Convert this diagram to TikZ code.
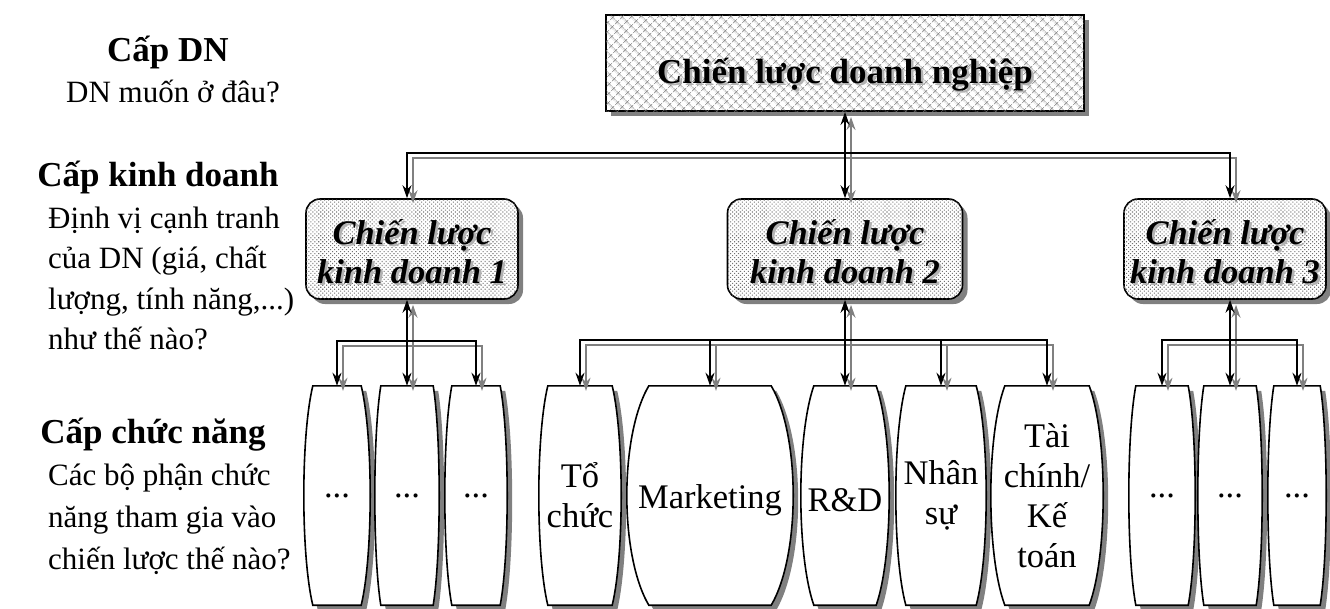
\documentclass[tikz,border=0pt]{standalone}
\usepackage{fontspec}
\setmainfont{Liberation Serif}
\usetikzlibrary{arrows.meta,shadows,patterns.meta,calc}
\pgfdeclarelayer{back}
\pgfsetlayers{back,main}

% functional unit: flat top and bottom, sides bulging outwards
% #1 = node, #2 = bulge of the sides
\newcommand\barrel[2]{%
  \draw[barrelbox] ([xshift=#2pt]#1.north west) -- ([xshift=-#2pt]#1.north east)
    .. controls ($(#1.north east)+({#2/3},50)$) and ($(#1.south east)+({#2/3},-50)$)
    .. ([xshift=-#2pt]#1.south east) -- ([xshift=#2pt]#1.south west)
    .. controls ($(#1.south west)+({-#2/3},-50)$) and ($(#1.north west)+({-#2/3},50)$)
    .. cycle;}

% lowers a label without changing the box it occupies
\newcommand\lowered[1]{\raisebox{-5pt}[\height][\depth]{#1}}

% all connectors, drawn once as grey shadow and once in black
\newcommand\links[1]{%
  \draw[twoway,#1] (top.south) -- (b2.north);
  \draw[link,#1] (h0) -| (b1.north -| d2.north);
  \draw[link,#1] (h0) -| (b3.north -| e2.north);
  \draw[twoway,#1] (b1.south -| d2.north) -- (d2.north);
  \draw[link,#1] (h1) -| (d1.north);
  \draw[link,#1] (h1) -| (d3.north);
  \draw[twoway,#1] (b2.south) -- (rd.north);
  \draw[link,#1] (h2) -| (tc.north);
  \draw[link,#1] (h2) -| (mk.north);
  \draw[link,#1] (h2) -| (ns.north);
  \draw[link,#1] (h2) -| (tk.north);
  \draw[twoway,#1] (b3.south -| e2.north) -- (e2.north);
  \draw[link,#1] (h3) -| (e1.north);
  \draw[link,#1] (h3) -| (e3.north);
}

\begin{document}
\begin{tikzpicture}[x=1pt,y=-1pt,
  >={Stealth[length=13pt,width=9pt]},
  link/.style={line width=1.6pt,->},
  twoway/.style={line width=1.6pt,<->},
  boxshadow/.style={drop shadow={shadow xshift=5pt,shadow yshift=-5pt,fill=gray,opacity=1}},
  hatchbox/.style={draw,line width=2pt,fill=white,boxshadow,
    postaction={pattern={Hatch[angle=45,distance=6.5pt,line width=0.7pt]},pattern color=gray!90!black}},
  dotbox/.style={draw,line width=1.6pt,rounded corners=14pt,fill=white,boxshadow,
    postaction={pattern={Dots[angle=45,distance=2.8pt,radius=0.75pt]},pattern color=gray!90!black}},
  barrelbox/.style={draw,line width=1.6pt,fill=white,boxshadow},
  fbox/.style={inner sep=0pt,minimum height=219pt,align=center,font=\fontsize{34.5}{40}\selectfont},
  toptext/.style={inner sep=0pt,anchor=base,font=\fontsize{35}{40}\selectfont\bfseries},
  btext/.style={inner sep=0pt,align=center,font=\fontsize{34.5}{39}\selectfont\bfseries\itshape},
  head/.style={inner sep=0pt,anchor=base,font=\fontsize{35}{40}\selectfont\bfseries},
  note/.style={inner sep=0pt,anchor=base west,font=\fontsize{31}{40}\selectfont},
]
\useasboundingbox (0,0) rectangle (1330,608);

% level labels on the left
\node[head] (l1) at (168,61) {Cấp DN};
\node[note,anchor=base] (l1a) at (173,102) {DN muốn ở đâu?};
\node[head] (l2) at (158,186) {Cấp kinh doanh};
\node[note] (l2a) at (48,228) {Định vị cạnh tranh};
\node[note] (l2b) at (48,268) {của DN (giá, chất};
\node[note] (l2c) at (48,309) {lượng, tính năng,...)};
\node[note] (l2d) at (48,349) {như thế nào?};
\node[head] (l3) at (153,443) {Cấp chức năng};
\node[note] (l3a) at (48,485) {Các bộ phận chức};
\node[note] (l3b) at (48,527) {năng tham gia vào};
\node[note] (l3c) at (48,569) {chiến lược thế nào?};

% corporate level
\node[hatchbox,minimum width=478pt,minimum height=96pt] (top) at (845,63) {};
\node[toptext,text=gray!60] (topshade) at (847.5,85.5) {Chiến lược doanh nghiệp};
\node[toptext] (toplabel) at (845,83) {Chiến lược doanh nghiệp};

% business level
\node[dotbox,minimum width=212pt,minimum height=100pt] (b1) at (412,249) {};
\node[dotbox,minimum width=235pt,minimum height=100pt] (b2) at (845,249) {};
\node[dotbox,minimum width=202pt,minimum height=100pt] (b3) at (1225,249) {};
\node[btext,text=gray!60] (b1s) at (414.5,254) {Chiến lược\\kinh doanh 1};
\node[btext] (b1t) at (412,251.5) {Chiến lược\\kinh doanh 1};
\node[btext,text=gray!60] (b2s) at (847.5,254) {Chiến lược\\kinh doanh 2};
\node[btext] (b2t) at (845,251.5) {Chiến lược\\kinh doanh 2};
\node[btext,text=gray!60] (b3s) at (1227.5,254) {Chiến lược\\kinh doanh 3};
\node[btext] (b3t) at (1225,251.5) {Chiến lược\\kinh doanh 3};

% functional level
\node[fbox,minimum width=66pt] (d1) at (337,495.5) {...};
\node[fbox,minimum width=64pt] (d2) at (407,495.5) {...};
\node[fbox,minimum width=62pt] (d3) at (476,495.5) {...};
\node[fbox,minimum width=82pt] (tc) at (580,495.5) {Tổ\\chức};
\node[fbox,minimum width=166pt] (mk) at (710,495.5) {\lowered{Marketing}};
\node[fbox,minimum width=88pt] (rd) at (845,495.5) {\lowered{R\&D}};
\node[fbox,minimum width=90pt] (ns) at (941,495.5) {Nhân\\sự};
\node[fbox,minimum width=112pt] (tk) at (1047,495.5) {Tài\\chính/\\Kế\\toán};
\node[fbox,minimum width=66pt] (e1) at (1162,495.5) {...};
\node[fbox,minimum width=64pt] (e2) at (1230,495.5) {...};
\node[fbox,minimum width=58pt] (e3) at (1297,495.5) {...};

\begin{pgfonlayer}{back}
  \barrel{d1}{9}\barrel{d2}{6}\barrel{d3}{7}
  \barrel{tc}{9}\barrel{mk}{22}\barrel{rd}{13}\barrel{ns}{10}\barrel{tk}{14}
  \barrel{e1}{7}\barrel{e2}{6}\barrel{e3}{6}
\end{pgfonlayer}

% branching points
\path (top.south) ++(0,41) coordinate (h0);
\path (d2.north) ++(0,-45) coordinate (h1);
\path (rd.north) ++(0,-46) coordinate (h2);
\path (e2.north) ++(0,-46) coordinate (h3);

\begin{scope}[transform canvas={xshift=6pt,yshift=-5pt}]
  \links{gray}
\end{scope}
\links{black}
\end{tikzpicture}
\end{document}
